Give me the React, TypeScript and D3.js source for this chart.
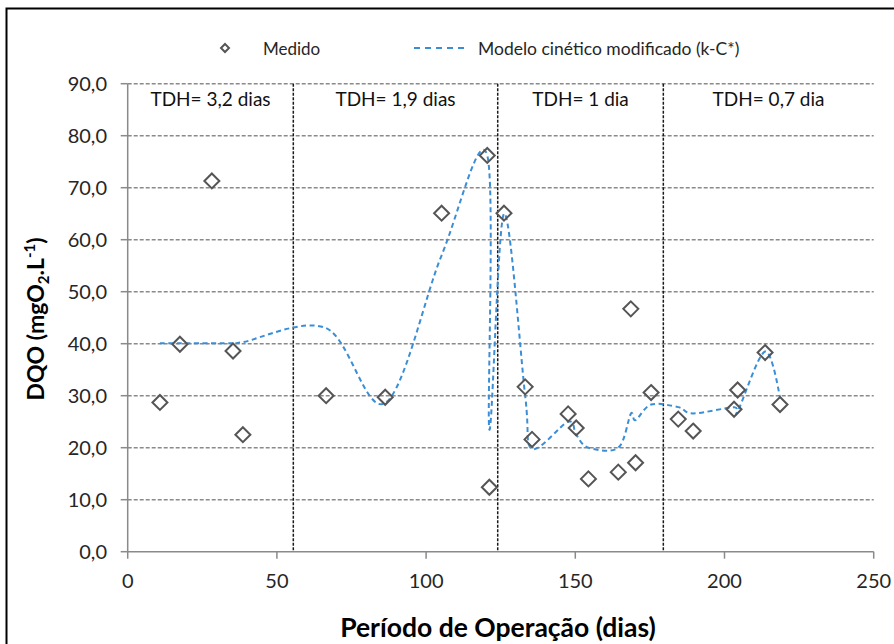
import React from "react";
import * as d3 from "d3";

// ---- data ----
const measuredX = [10.8, 17.5, 28.2, 35.3, 38.6, 66.5, 86.3, 105.2, 120.5, 121.2, 126.1, 133.2, 135.5, 147.6, 150.3, 154.4, 164.4, 168.6, 170.2, 175.4, 184.5, 189.5, 203.2, 204.4, 213.6, 218.6];
const measuredY = [28.7, 39.9, 71.3, 38.6, 22.5, 30.0, 29.7, 65.1, 76.2, 12.4, 65.1, 31.7, 21.6, 26.5, 23.8, 14.0, 15.3, 46.7, 17.1, 30.6, 25.5, 23.2, 27.4, 31.1, 38.3, 28.3];
const modelX = [10.8, 17.5, 28.2, 35.3, 38.6, 66.5, 86.3, 105.2, 120.5, 121.2, 126.1, 133.2, 135.5, 147.6, 150.3, 154.4, 164.4, 168.6, 170.2, 175.4, 184.5, 189.5, 203.2, 204.4, 213.6, 218.6];
const modelY = [40.1, 40.1, 40.1, 40.1, 40.3, 43.0, 28.6, 57.0, 76.2, 23.5, 65.0, 30.0, 19.8, 25.0, 22.5, 20.0, 20.0, 26.5, 25.3, 28.3, 27.8, 26.6, 27.8, 27.0, 38.5, 29.5];
const xTicks = [0, 50, 100, 150, 200, 250];
const yTicks = [0, 10, 20, 30, 40, 50, 60, 70, 80, 90];
const phaseBounds = [0, 55.5, 124, 179.5, 250];
const phaseLabels = ["TDH= 3,2 dias", "TDH= 1,9 dias", "TDH= 1 dia", "TDH= 0,7 dia"];
const seriesNames = ["Medido", "Modelo cinético modificado (k-C*)"];

const W = 894;
const H = 644;
const FONT = "Lato, 'Open Sans', sans-serif";

export default function App() {
  const x = d3.scaleLinear().domain([0, 250]).range([127.7, 873.7]);
  const y = d3.scaleLinear().domain([0, 90]).range([551.7, 83.7]);
  const fmt = (v: number) => d3.format(".1f")(v).replace(".", ",");

  const modelPts: [number, number][] = modelX.map((d, i) => [d, modelY[i]]);
  const line = d3
    .line<[number, number]>()
    .x((d) => x(d[0]))
    .y((d) => y(d[1]))
    .curve(d3.curveCatmullRom.alpha(0));

  const diamond = (cx: number, cy: number, r: number) =>
    `M${cx},${cy - r}L${cx + r},${cy}L${cx},${cy + r}L${cx - r},${cy}Z`;

  const blue = "#3b8ed6";
  const grid = "#8a8a8a";
  const txt = "#262626";

  return (
    <svg
      width={W}
      height={H}
      style={{ position: "absolute", left: 0, top: 0, background: "#fff", overflow: "hidden" }}
      fontFamily={FONT}
    >
      <rect x={0} y={0} width={W} height={H} fill="#fff" />
      {/* outer frame */}
      <rect x={6.5} y={8.5} width={W + 20} height={H + 20} fill="none" stroke="#000" strokeWidth={2} />

      {/* horizontal gridlines */}
      {yTicks.filter((t) => t > 0).map((t) => (
        <line key={"g" + t} x1={x(0)} x2={x(250)} y1={y(t)} y2={y(t)} stroke={grid} strokeWidth={1.5} strokeDasharray="4,2" />
      ))}

      {/* phase dividers */}
      {phaseBounds.slice(1, -1).map((b) => (
        <line key={"d" + b} x1={x(b)} x2={x(b)} y1={y(90)} y2={y(0)} stroke="#1a1a1a" strokeWidth={1.5} strokeDasharray="3,1.5" />
      ))}

      {/* axes */}
      <line x1={x(0)} x2={x(0)} y1={y(90)} y2={y(0)} stroke={grid} strokeWidth={1.5} />
      <line x1={x(0)} x2={x(250)} y1={y(0)} y2={y(0)} stroke={grid} strokeWidth={1.5} />
      {yTicks.map((t) => (
        <g key={"yt" + t}>
          <line x1={x(0) - 7} x2={x(0)} y1={y(t)} y2={y(t)} stroke={grid} strokeWidth={1.5} />
          <text x={107} y={y(t)} dy="0.36em" textAnchor="end" fontSize={20} fill={txt}>
            {fmt(t)}
          </text>
        </g>
      ))}
      {xTicks.map((t) => (
        <g key={"xt" + t}>
          <line x1={x(t)} x2={x(t)} y1={y(0)} y2={y(0) + 7} stroke={grid} strokeWidth={1.5} />
          <text x={x(t)} y={588} textAnchor="middle" fontSize={20} fill={txt}>
            {t}
          </text>
        </g>
      ))}

      {/* phase labels */}
      {phaseLabels.map((l, i) => (
        <text key={l} x={x((phaseBounds[i] + phaseBounds[i + 1]) / 2)} y={106} textAnchor="middle" fontSize={19} fill="#111">
          {l}
        </text>
      ))}

      {/* model line */}
      <path d={line(modelPts) || ""} fill="none" stroke={blue} strokeWidth={2} strokeDasharray="5,3.5" />

      {/* measured markers */}
      {measuredX.map((d, i) => (
        <path key={"m" + i} d={diamond(x(d), y(measuredY[i]), 7.5)} fill="none" stroke="#555" strokeWidth={2} />
      ))}

      {/* legend */}
      <path d={diamond(225, 48, 4)} fill="none" stroke="#555" strokeWidth={2} />
      <text x={263} y={55} fontSize={17} fill={txt}>{seriesNames[0]}</text>
      <line x1={414} x2={468} y1={48} y2={48} stroke={blue} strokeWidth={2} strokeDasharray="6,5" />
      <text x={478} y={55} fontSize={17.5} fill={txt}>{seriesNames[1]}</text>

      {/* axis titles */}
      <text transform="translate(44,319) rotate(-90)" textAnchor="middle" fontSize={23} fontWeight="bold" fill="#000">
        DQO (mgO<tspan fontSize={15} dy={5}>2</tspan>
        <tspan dy={-5}>.L</tspan>
        <tspan fontSize={15} dy={-9}>-1</tspan>
        <tspan dy={9}>)</tspan>
      </text>
      <text x={498} y={637} textAnchor="middle" fontSize={26.5} fontWeight="bold" fill="#000">
        Período de Operação (dias)
      </text>
    </svg>
  );
}
